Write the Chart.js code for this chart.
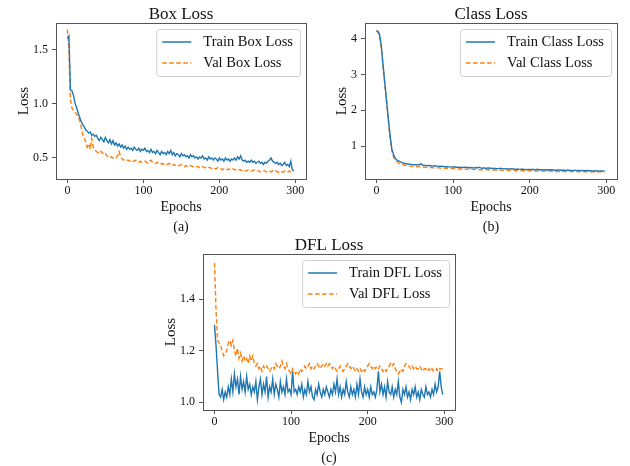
<!DOCTYPE html>
<html>
<head>
<meta charset="utf-8">
<script src="https://cdn.jsdelivr.net/npm/chart.js@4"></script>
<style>
  html, body { margin: 0; padding: 0; background: #fff; }
  #wrap { position: relative; width: 630px; height: 466px; overflow: hidden; }
  canvas { position: absolute; }
</style>
</head>
<body>
<div id="wrap">
  <canvas id="boxChart" width="315" height="235" style="left:0px;top:0px"></canvas>
  <canvas id="classChart" width="315" height="235" style="left:315px;top:0px"></canvas>
  <canvas id="dflChart" width="317" height="235" style="left:147px;top:231px"></canvas>
</div>
<script>
// epochs (every 2nd epoch of the 300 run)
const epochs = [];
for (let e = 0; e < 300; e += 2) epochs.push(e);

const epochTicks = [0, 100, 200, 300];
const boxTicks = [0.5, 1.0, 1.5];
const classTicks = [1, 2, 3, 4];
const dflTicks = [1.0, 1.2, 1.4];

const trainBoxLoss = [
  1.61, 1.63, 1.13, 1.12, 1.08, 1.01, 0.97, 0.92, 0.88, 0.84,
  0.81, 0.79, 0.76, 0.75, 0.73, 0.74, 0.71, 0.72, 0.70, 0.71,
  0.68, 0.66, 0.69, 0.67, 0.65, 0.69, 0.66, 0.64, 0.67, 0.63,
  0.66, 0.62, 0.64, 0.61, 0.63, 0.60, 0.62, 0.59, 0.61, 0.58,
  0.60, 0.58, 0.59, 0.57, 0.60, 0.58, 0.57, 0.59, 0.56, 0.58,
  0.57, 0.59, 0.56, 0.57, 0.55, 0.58, 0.55, 0.56, 0.54, 0.57,
  0.55, 0.53, 0.56, 0.54, 0.55, 0.53, 0.56, 0.54, 0.57, 0.53,
  0.55, 0.52, 0.54, 0.53, 0.51, 0.54, 0.52, 0.53, 0.51, 0.52,
  0.50, 0.53, 0.51, 0.52, 0.50, 0.51, 0.49, 0.51, 0.50, 0.52,
  0.49, 0.50, 0.48, 0.51, 0.49, 0.50, 0.48, 0.50, 0.49, 0.47,
  0.50, 0.48, 0.49, 0.47, 0.50, 0.48, 0.49, 0.47, 0.49, 0.48,
  0.50, 0.48, 0.51, 0.49, 0.52, 0.48, 0.47, 0.48, 0.46, 0.47,
  0.46, 0.48, 0.46, 0.47, 0.45, 0.46, 0.47, 0.45, 0.46, 0.44,
  0.46, 0.45, 0.47, 0.48, 0.50, 0.47, 0.46, 0.45, 0.46, 0.44,
  0.45, 0.43, 0.44, 0.46, 0.43, 0.44, 0.42, 0.47, 0.39, 0.38
];
const valBoxLoss = [
  1.69, 1.50, 1.04, 0.96, 0.94, 0.92, 0.91, 0.88, 0.85, 0.79,
  0.72, 0.69, 0.65, 0.60, 0.63, 0.58, 0.68, 0.60, 0.58, 0.56,
  0.55, 0.54, 0.56, 0.55, 0.53, 0.54, 0.52, 0.51, 0.50, 0.51,
  0.50, 0.49, 0.50, 0.52, 0.56, 0.51, 0.49, 0.48, 0.49, 0.48,
  0.48, 0.47, 0.48, 0.47, 0.47, 0.48, 0.47, 0.46, 0.47, 0.46,
  0.46, 0.47, 0.46, 0.45, 0.47, 0.48, 0.46, 0.45, 0.45, 0.46,
  0.45, 0.44, 0.45, 0.44, 0.45, 0.44, 0.44, 0.45, 0.44, 0.43,
  0.44, 0.43, 0.44, 0.43, 0.43, 0.44, 0.43, 0.42, 0.43, 0.42,
  0.42, 0.43, 0.42, 0.42, 0.41, 0.42, 0.42, 0.41, 0.41, 0.42,
  0.41, 0.41, 0.40, 0.41, 0.41, 0.40, 0.41, 0.40, 0.40, 0.41,
  0.40, 0.40, 0.39, 0.40, 0.40, 0.39, 0.40, 0.39, 0.39, 0.40,
  0.39, 0.39, 0.40, 0.39, 0.39, 0.38, 0.39, 0.38, 0.38, 0.39,
  0.38, 0.38, 0.38, 0.39, 0.38, 0.38, 0.38, 0.37, 0.38, 0.38,
  0.38, 0.37, 0.38, 0.38, 0.37, 0.38, 0.37, 0.38, 0.37, 0.37,
  0.38, 0.37, 0.37, 0.38, 0.37, 0.37, 0.38, 0.37, 0.37, 0.38
];

const trainClassLoss = [
  4.23, 4.20, 4.12, 3.85, 3.40, 2.95, 2.52, 2.08, 1.64, 1.25,
  0.92, 0.78, 0.68, 0.62, 0.59, 0.57, 0.55, 0.53, 0.52, 0.51,
  0.50, 0.50, 0.49, 0.49, 0.48, 0.48, 0.47, 0.48, 0.47, 0.51,
  0.47, 0.46, 0.46, 0.45, 0.46, 0.45, 0.45, 0.44, 0.45, 0.44,
  0.44, 0.43, 0.44, 0.43, 0.43, 0.42, 0.43, 0.42, 0.42, 0.42,
  0.41, 0.42, 0.41, 0.41, 0.40, 0.41, 0.40, 0.40, 0.41, 0.40,
  0.40, 0.39, 0.40, 0.39, 0.39, 0.40, 0.39, 0.41, 0.39, 0.38,
  0.39, 0.38, 0.38, 0.39, 0.38, 0.38, 0.37, 0.38, 0.37, 0.37,
  0.37, 0.38, 0.37, 0.37, 0.36, 0.37, 0.36, 0.36, 0.37, 0.36,
  0.36, 0.35, 0.36, 0.35, 0.35, 0.36, 0.35, 0.35, 0.34, 0.35,
  0.35, 0.34, 0.35, 0.34, 0.34, 0.35, 0.34, 0.34, 0.33, 0.34,
  0.34, 0.33, 0.34, 0.33, 0.34, 0.33, 0.33, 0.32, 0.33, 0.33,
  0.33, 0.32, 0.33, 0.32, 0.32, 0.33, 0.32, 0.32, 0.31, 0.32,
  0.32, 0.31, 0.32, 0.31, 0.32, 0.31, 0.31, 0.32, 0.31, 0.31,
  0.31, 0.30, 0.31, 0.30, 0.31, 0.30, 0.30, 0.31, 0.30, 0.30
];
const valClassLoss = [
  4.22, 4.18, 4.08, 3.80, 3.36, 2.92, 2.48, 2.03, 1.60, 1.20,
  0.86, 0.70, 0.62, 0.57, 0.54, 0.51, 0.49, 0.48, 0.47, 0.46,
  0.45, 0.45, 0.44, 0.44, 0.43, 0.43, 0.43, 0.42, 0.42, 0.42,
  0.41, 0.41, 0.41, 0.40, 0.40, 0.40, 0.40, 0.39, 0.39, 0.39,
  0.39, 0.39, 0.38, 0.38, 0.38, 0.38, 0.38, 0.37, 0.37, 0.37,
  0.37, 0.37, 0.37, 0.36, 0.36, 0.36, 0.36, 0.36, 0.36, 0.35,
  0.35, 0.35, 0.35, 0.35, 0.35, 0.35, 0.34, 0.34, 0.34, 0.34,
  0.34, 0.34, 0.34, 0.34, 0.33, 0.33, 0.33, 0.33, 0.33, 0.33,
  0.33, 0.33, 0.32, 0.32, 0.32, 0.32, 0.32, 0.32, 0.32, 0.32,
  0.32, 0.31, 0.31, 0.31, 0.31, 0.31, 0.31, 0.31, 0.31, 0.31,
  0.31, 0.31, 0.30, 0.30, 0.30, 0.30, 0.30, 0.30, 0.30, 0.30,
  0.30, 0.30, 0.30, 0.30, 0.30, 0.29, 0.29, 0.29, 0.29, 0.29,
  0.29, 0.29, 0.29, 0.29, 0.29, 0.29, 0.29, 0.29, 0.29, 0.29,
  0.29, 0.29, 0.28, 0.29, 0.28, 0.28, 0.29, 0.28, 0.28, 0.28,
  0.28, 0.28, 0.28, 0.28, 0.28, 0.28, 0.28, 0.28, 0.28, 0.28
];

const trainDflLoss = [
  1.30, 1.22, 1.12, 1.03, 1.02, 1.05, 1.01, 1.04, 1.02, 1.06,
  1.03, 1.09, 1.04, 1.11, 1.06, 1.09, 1.03, 1.10, 1.05, 1.08,
  1.04, 1.10, 1.05, 1.07, 1.03, 1.06, 1.04, 1.08, 1.01, 1.06,
  1.09, 1.03, 1.07, 1.04, 1.10, 1.02, 1.06, 1.04, 1.09, 1.03,
  1.07, 1.05, 1.02, 1.08, 1.04, 1.06, 1.03, 1.09, 1.04, 1.05,
  1.03, 1.12, 1.04, 1.05, 1.03, 1.06, 1.04, 1.07, 1.02, 1.05,
  1.03, 1.08, 1.04, 1.06, 1.02, 1.01, 1.05, 1.03, 1.07, 1.04,
  1.02, 1.05, 1.03, 1.06, 1.04, 1.02, 1.05, 1.03, 1.07, 1.04,
  1.09, 1.03, 1.06, 1.02, 1.05, 1.03, 1.08, 1.04, 1.02, 1.06,
  1.03, 1.05, 1.02, 1.07, 1.03, 1.09, 1.04, 1.02, 1.06, 1.03,
  1.05, 1.02, 1.06, 1.03, 1.04, 1.02, 1.05, 1.12, 1.04, 1.07,
  1.03, 1.06, 1.02, 1.08, 1.04, 1.03, 1.06, 1.02, 1.05, 1.03,
  1.08, 1.02, 1.00, 1.05, 1.03, 1.06, 1.02, 1.04, 1.01, 1.05,
  1.03, 1.06, 1.02, 1.04, 1.01, 1.05, 1.03, 1.02, 1.06, 1.03,
  1.04, 1.02, 1.05, 1.03, 1.07, 1.04, 1.06, 1.12, 1.06, 1.03
];
const valDflLoss = [
  1.54, 1.36, 1.24, 1.23, 1.22, 1.20, 1.18, 1.19, 1.20, 1.23,
  1.24, 1.22, 1.24, 1.20, 1.18, 1.21, 1.17, 1.19, 1.16, 1.18,
  1.16, 1.17, 1.15, 1.18, 1.16, 1.18, 1.15, 1.14, 1.15, 1.13,
  1.14, 1.12, 1.14, 1.13, 1.14, 1.13, 1.12, 1.13, 1.14, 1.13,
  1.15, 1.14, 1.13, 1.14, 1.16, 1.14, 1.13, 1.15, 1.13, 1.12,
  1.11, 1.13, 1.12, 1.11, 1.12, 1.11, 1.13, 1.12, 1.13, 1.14,
  1.13, 1.14, 1.15, 1.13, 1.14, 1.13, 1.14, 1.15, 1.14, 1.13,
  1.14, 1.15, 1.14, 1.15, 1.14, 1.15, 1.14, 1.13, 1.14, 1.13,
  1.12, 1.13, 1.14, 1.13, 1.12, 1.13, 1.14, 1.15, 1.14, 1.13,
  1.14, 1.13, 1.12, 1.13, 1.12, 1.13, 1.12, 1.13, 1.12, 1.13,
  1.14, 1.15, 1.14, 1.13, 1.14, 1.13, 1.14, 1.13, 1.14, 1.13,
  1.12, 1.13, 1.12, 1.13, 1.14, 1.15, 1.14, 1.15, 1.13, 1.12,
  1.11, 1.12, 1.13, 1.12, 1.14, 1.15, 1.14, 1.14, 1.13, 1.14,
  1.13, 1.14, 1.13, 1.13, 1.14, 1.13, 1.12, 1.13, 1.13, 1.12,
  1.13, 1.12, 1.13, 1.12, 1.12, 1.13, 1.12, 1.13, 1.13, 1.13
];

const FONT = '"Liberation Serif", "DejaVu Serif", serif';
const INK = '#111';
const AXIS = '#555';
const BLUE = '#1f77b4';
const ORANGE = '#ff7f0e';

Chart.defaults.font.family = FONT;
Chart.defaults.color = INK;

// matplotlib style box around the axes
const framePlugin = {
  id: 'frame',
  afterDatasetsDraw(chart) {
    const { ctx, chartArea: a } = chart;
    ctx.save();
    ctx.strokeStyle = AXIS;
    ctx.lineWidth = 1;
    ctx.strokeRect(Math.round(a.left) + 0.5, Math.round(a.top) + 0.5,
      Math.round(a.right - a.left), Math.round(a.bottom - a.top));
    ctx.restore();
  }
};

// legend box drawn in the upper right corner, inside the plot
const mplLegend = {
  id: 'mplLegend',
  afterDatasetsDraw(chart) {
    const { ctx, chartArea } = chart;
    const items = chart.data.datasets;
    ctx.save();
    ctx.font = '14.5px ' + FONT;
    const textW = Math.max(...items.map(d => ctx.measureText(d.label).width));
    const w = textW + 54, h = 47;
    const x = chartArea.right - 6 - w, y = chartArea.top + 6;
    ctx.beginPath();
    ctx.roundRect(x + 0.5, y + 0.5, w, h, 3);
    ctx.fillStyle = 'rgba(255,255,255,0.8)';
    ctx.fill();
    ctx.strokeStyle = '#d0d0d0';
    ctx.lineWidth = 1;
    ctx.stroke();
    items.forEach((d, i) => {
      const cy = y + 13 + i * 21;
      ctx.beginPath();
      ctx.setLineDash(d.borderDash || []);
      ctx.strokeStyle = d.borderColor;
      ctx.lineWidth = 1.5;
      ctx.moveTo(x + 6, cy);
      ctx.lineTo(x + 35, cy);
      ctx.stroke();
      ctx.setLineDash([]);
      ctx.fillStyle = INK;
      ctx.textBaseline = 'middle';
      ctx.fillText(d.label, x + 47, cy);
    });
    ctx.restore();
  }
};

function makeChart(id, opt) {
  const ctx = document.getElementById(id).getContext('2d');
  return new Chart(ctx, {
    type: 'line',
    data: {
      datasets: [{
        label: opt.trainLabel,
        data: epochs.map((e, i) => ({ x: e, y: opt.train[i] })),
        borderColor: BLUE,
        borderWidth: 1.4,
        pointRadius: 0,
        tension: 0
      }, {
        label: opt.valLabel,
        data: epochs.map((e, i) => ({ x: e, y: opt.val[i] })),
        borderColor: ORANGE,
        borderWidth: 1.4,
        borderDash: [4.5, 2.5],
        pointRadius: 0,
        tension: 0
      }]
    },
    options: {
      responsive: false,
      animation: false,
      events: [],
      layout: { autoPadding: false, padding: { left: 0, right: opt.padRight, top: 0, bottom: 1 } },
      plugins: {
        legend: { display: false },
        tooltip: { enabled: false },
        title: {
          display: true, text: opt.title, fullSize: false, color: INK,
          font: { size: 17, lineHeight: 1, weight: 'normal' },
          padding: { top: 6, bottom: 0 }
        },
        subtitle: {
          display: true, text: opt.caption, position: 'bottom', fullSize: false, color: INK,
          font: { size: 14, lineHeight: 1 },
          padding: { top: 1, bottom: 0 }
        }
      },
      scales: {
        x: {
          type: 'linear', min: -15, max: 314,
          afterBuildTicks: s => { s.ticks = epochTicks.map(v => ({ value: v })); },
          afterFit: s => { s.height = 40; },
          grid: { display: true, drawOnChartArea: false, drawTicks: true, tickLength: 4, color: AXIS },
          border: { display: false },
          ticks: { padding: 1, font: { size: 12 }, color: INK, maxRotation: 0 },
          title: { display: true, text: 'Epochs', font: { size: 14, lineHeight: 1 }, padding: { top: 0, bottom: 5 }, color: INK }
        },
        y: {
          type: 'linear', min: opt.yMin, max: opt.yMax,
          afterBuildTicks: s => { s.ticks = opt.yTicks.map(v => ({ value: v })); },
          afterFit: s => { s.width = opt.yWidth; },
          grid: { display: true, drawOnChartArea: false, drawTicks: true, tickLength: 4, color: AXIS },
          border: { display: false },
          ticks: { padding: 4, font: { size: 12 }, color: INK, callback: opt.fmt },
          title: { display: true, text: 'Loss', font: { size: 15, lineHeight: 1 }, padding: { top: opt.yTitlePad, bottom: 0 }, color: INK }
        }
      }
    },
    plugins: [framePlugin, mplLegend]
  });
}

makeChart('boxChart', {
  title: 'Box Loss', caption: '(a)',
  trainLabel: 'Train Box Loss', valLabel: 'Val Box Loss',
  train: trainBoxLoss, val: valBoxLoss,
  yMin: 0.305, yMax: 1.75, yTicks: boxTicks, fmt: v => v.toFixed(1),
  yWidth: 56, yTitlePad: 17, padRight: 9
});

makeChart('classChart', {
  title: 'Class Loss', caption: '(b)',
  trainLabel: 'Train Class Loss', valLabel: 'Val Class Loss',
  train: trainClassLoss, val: valClassLoss,
  yMin: 0.08, yMax: 4.44, yTicks: classTicks, fmt: v => String(v),
  yWidth: 50, yTitlePad: 20, padRight: 13
});

makeChart('dflChart', {
  title: 'DFL Loss', caption: '(c)',
  trainLabel: 'Train DFL Loss', valLabel: 'Val DFL Loss',
  train: trainDflLoss, val: valDflLoss,
  yMin: 0.97, yMax: 1.575, yTicks: dflTicks, fmt: v => v.toFixed(1),
  yWidth: 56, yTitlePad: 17, padRight: 9
});
</script>
</body>
</html>
